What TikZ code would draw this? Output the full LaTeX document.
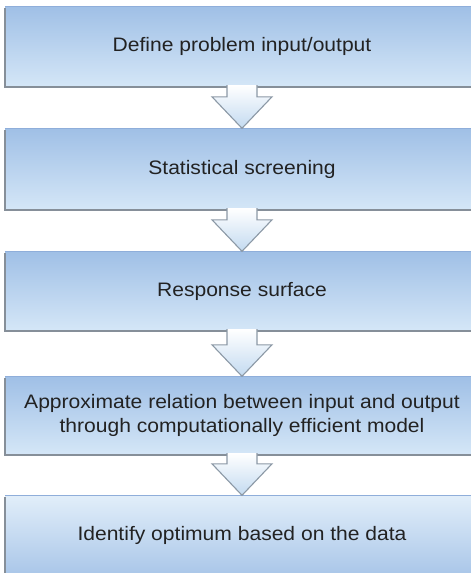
\documentclass[tikz,border=0pt]{standalone}
\usepackage{fontspec}
\setmainfont{Liberation Sans}[FakeStretch=1.08]
\usetikzlibrary{calc}
\definecolor{boxdark}{HTML}{A0C0E6}
\definecolor{boxlight}{HTML}{D4E6F7}
\definecolor{boxtop}{HTML}{8FAEDA}
\definecolor{shadowgray}{HTML}{868F99}
\definecolor{arrowfill}{HTML}{C3DAF0}
\definecolor{arrowline}{HTML}{8C99A6}
\definecolor{textgray}{HTML}{222222}
\tikzset{
  stepbox/.style={minimum width=474pt, minimum height=79pt, inner sep=0pt,
    align=center, text=textgray, font=\fontsize{19.5}{24}\selectfont,
    top color=boxdark, bottom color=boxlight, draw=none},
  stepboxrev/.style={stepbox, top color=boxlight!70!white, bottom color=boxdark!90!white},
  shadowline/.style={draw=shadowgray, line width=2pt},
  topline/.style={draw=boxtop, line width=0.8pt},
  blockarrow/.style={top color=white, bottom color=arrowfill, draw=arrowline, line width=1.1pt, line join=miter},
}
\newcommand\boxedge[1]{%
  \draw[topline] (#1.north west) -- (#1.north east);
  \draw[shadowline] ([yshift=-1pt]#1.north west) -- ([yshift=-1pt,xshift=-0pt]#1.south west) -- ([yshift=-1pt]#1.south east);
}
\newcommand\flowarrow[2]{%
  \path[blockarrow] let \p1=(#1.south), \p2=(#2.north) in
    (\x1-15pt,\y1+1pt) -- (\x1-15pt,\y2+32pt) -- (\x1-30pt,\y2+32pt) -- (\x2,\y2+0.5pt)
    -- (\x1+30pt,\y2+32pt) -- (\x1+15pt,\y2+32pt) -- (\x1+15pt,\y1+1pt);
}
\begin{document}
\begin{tikzpicture}[x=1pt,y=-1pt]
\useasboundingbox (0,0) rectangle (471,573);
\fill[white] (0,0) rectangle (471,573);
\begin{scope}
\clip (0,0) rectangle (471,573);
\node[stepbox] (b1) at (242,46.5) {Define problem input/output};
\node[stepbox, minimum height=80pt] (b2) at (242,169) {Statistical screening};
\node[stepbox, minimum height=78pt] (b3) at (242,291) {Response surface};
\node[stepbox, minimum height=77pt] (b4) at (242,415.5) {Approximate relation between input and output\\through computationally efficient model};
\node[stepboxrev] (b5) at (242,535.5) {Identify optimum based on the data};
\boxedge{b1}
\boxedge{b2}
\boxedge{b3}
\boxedge{b4}
\boxedge{b5}
\flowarrow{b1}{b2}
\flowarrow{b2}{b3}
\flowarrow{b3}{b4}
\flowarrow{b4}{b5}
\end{scope}
\end{tikzpicture}
\end{document}
